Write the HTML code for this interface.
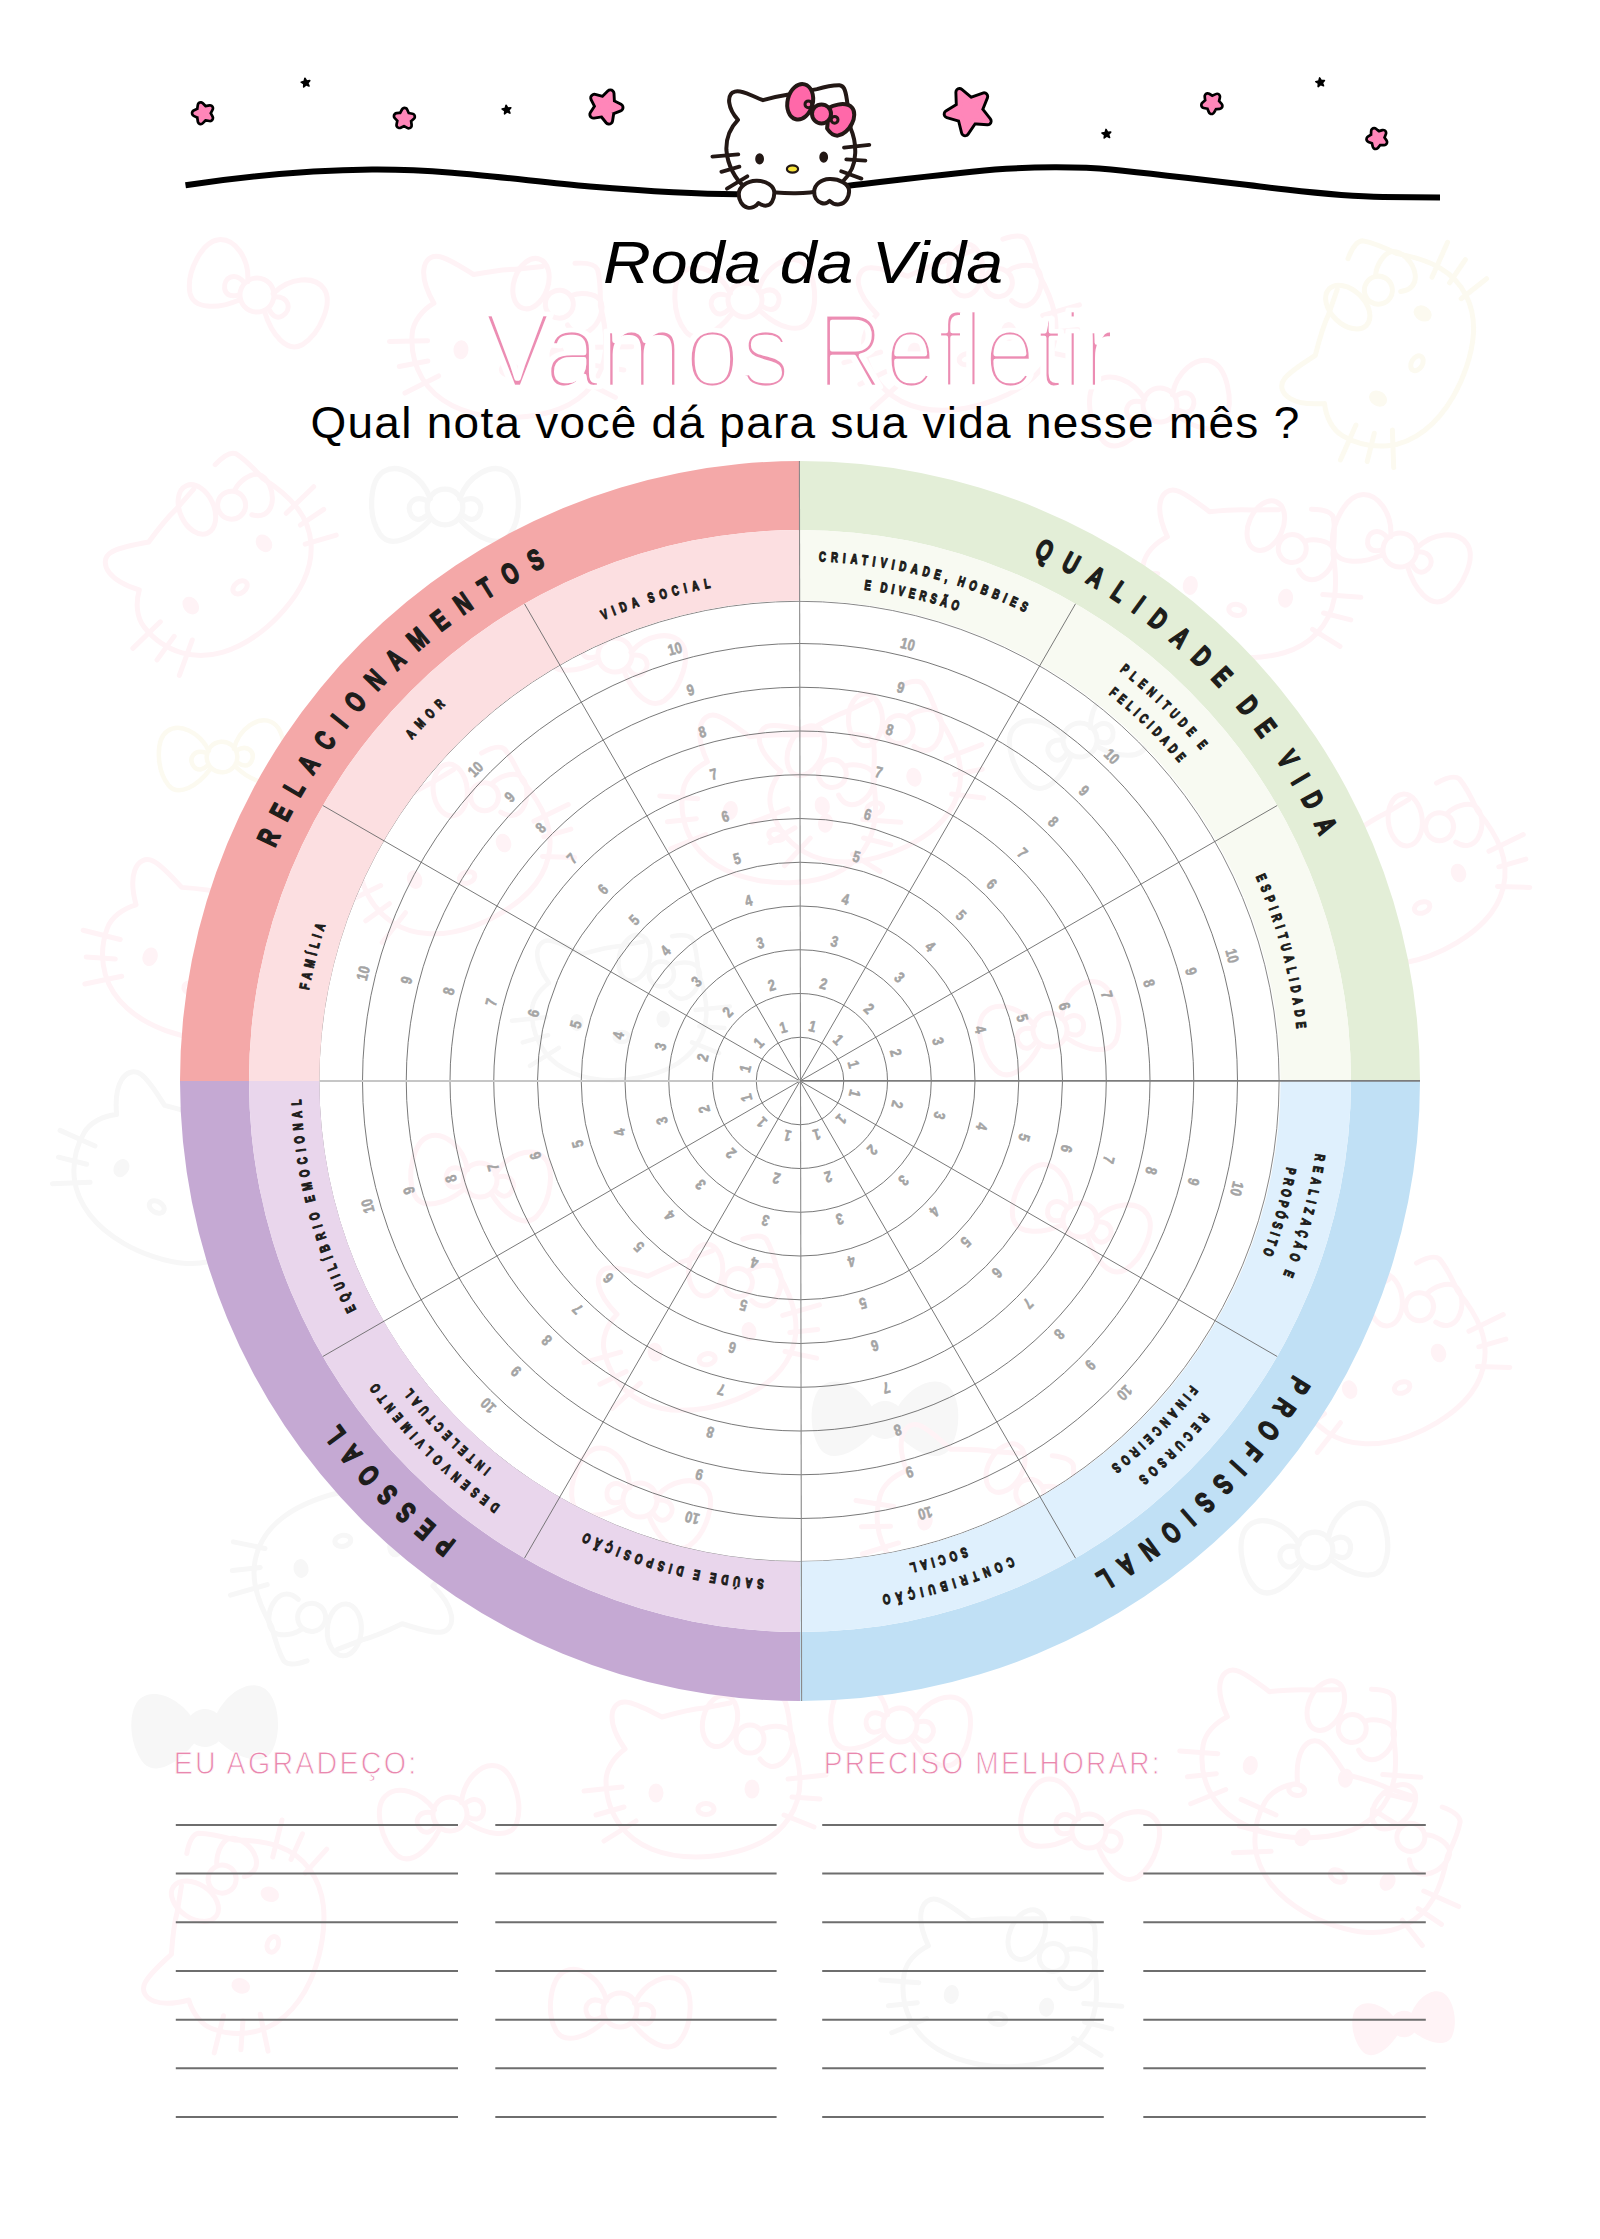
<!DOCTYPE html>
<html lang="pt-BR">
<head>
<meta charset="utf-8">
<title>Roda da Vida</title>
<style>
html,body{margin:0;padding:0;background:#fff}
body{width:1600px;height:2239px;overflow:hidden;font-family:"Liberation Sans",sans-serif}
svg{display:block}
</style>
</head>
<body>
<svg width="1600" height="2239" viewBox="0 0 1600 2239">
<rect width="1600" height="2239" fill="#fff"/>
<defs>
<g id="wb" fill="none" stroke-width="5" stroke-linecap="round" stroke-linejoin="round">
<path d="M-14 -8C-22 -30,-44 -42,-58 -34C-72 -26,-74 8,-62 26C-52 40,-30 30,-14 12"/>
<path d="M14 -8C22 -30,44 -42,58 -34C72 -26,74 8,62 26C52 40,30 30,14 12"/>
<circle cx="0" cy="0" r="17"/>
<path d="M-17 -6C-30 -12,-38 -2,-32 8C-28 14,-22 12,-17 8"/>
<path d="M17 -6C30 -12,38 -2,32 8C28 14,22 12,17 8"/>
</g>
<g id="wf" stroke="none">
<path d="M-10 -8C-22 -32,-46 -44,-60 -36C-76 -28,-78 10,-64 30C-52 44,-28 32,-10 12Z"/>
<path d="M10 -8C22 -32,46 -44,60 -36C76 -28,78 10,64 30C52 44,28 32,10 12Z"/>
<circle cx="0" cy="0" r="19"/>
</g>
<g id="wk" fill="none" stroke-width="5" stroke-linecap="round" stroke-linejoin="round">
<path d="M-79 -30C-86 -40,-92 -52,-92 -62C-92 -72,-86 -78,-78 -77C-68 -76,-54 -68,-42 -62C-28 -66,-12 -70,0 -71L26 -76M58 -82C70 -84,78 -83,81 -78C84 -70,86 -56,87 -42C92 -28,96 -12,96 2C96 30,80 52,56 64C36 74,10 78,-8 78C-40 78,-68 68,-84 46C-94 32,-98 16,-98 2C-98 -10,-90 -22,-79 -30"/>
<path d="M-120 12L-82 8M-108 36L-80 28M-100 62L-68 42M84 0L122 -4M88 18L116 20M80 36L110 48"/>
<ellipse cx="-48" cy="14" rx="5" ry="7" fill="currentColor"/>
<ellipse cx="48" cy="10" rx="5" ry="7" fill="currentColor"/>
<ellipse cx="2" cy="30" rx="8" ry="5.5"/>
<ellipse cx="16" cy="-58" rx="17" ry="26" transform="rotate(14 16 -58)"/>
<path d="M56 -20C62 -12,70 -10,78 -16C88 -24,92 -40,86 -48C80 -54,66 -54,58 -50"/>
<circle cx="46" cy="-40" r="14"/>
</g>
</defs>
<use href="#wb" transform="translate(257 295) rotate(25) scale(1.0)" stroke="#fff3f6" color="#fff3f6"/>
<use href="#wk" transform="translate(510 340) rotate(5) scale(1.0)" stroke="#fff3f6" color="#fff3f6"/>
<use href="#wb" transform="translate(745 300) rotate(-5) scale(1.0)" stroke="#fff3f6" color="#fff3f6"/>
<use href="#wk" transform="translate(960 330) rotate(-10) scale(1.0)" stroke="#fff3f6" color="#fff3f6"/>
<use href="#wb" transform="translate(1160 405) rotate(-10) scale(1.0)" stroke="#fff3f6" color="#fff3f6"/>
<use href="#wk" transform="translate(1390 350) rotate(-60) scale(1.0)" stroke="#fcfaf0" color="#fcfaf0"/>
<use href="#wk" transform="translate(220 565) rotate(-38) scale(1.0)" stroke="#fff3f6" color="#fff3f6"/>
<use href="#wb" transform="translate(445 507) rotate(0) scale(1.05)" stroke="#f7f7f7" color="#f7f7f7"/>
<use href="#wb" transform="translate(222 757) rotate(-5) scale(0.9)" stroke="#fcfaf0" color="#fcfaf0"/>
<use href="#wk" transform="translate(455 850) rotate(-20) scale(1.0)" stroke="#fff3f6" color="#fff3f6"/>
<use href="#wk" transform="translate(200 960) rotate(20) scale(1.0)" stroke="#fff3f6" color="#fff3f6"/>
<use href="#wb" transform="translate(615 655) rotate(20) scale(1.0)" stroke="#fff3f6" color="#fff3f6"/>
<use href="#wk" transform="translate(780 805) rotate(10) scale(1.0)" stroke="#fff3f6" color="#fff3f6"/>
<use href="#wb" transform="translate(1400 550) rotate(25) scale(1.0)" stroke="#fff3f6" color="#fff3f6"/>
<use href="#wk" transform="translate(1240 580) rotate(10) scale(1.0)" stroke="#fff3f6" color="#fff3f6"/>
<use href="#wk" transform="translate(1410 880) rotate(-20) scale(1.0)" stroke="#fff3f6" color="#fff3f6"/>
<use href="#wb" transform="translate(1080 740) rotate(-20) scale(1.0)" stroke="#f7f7f7" color="#f7f7f7"/>
<use href="#wk" transform="translate(865 780) rotate(-15) scale(1.0)" stroke="#fff3f6" color="#fff3f6"/>
<use href="#wk" transform="translate(350 1570) rotate(170) scale(1.0)" stroke="#f7f7f7" color="#f7f7f7"/>
<use href="#wf" transform="translate(205 1728) rotate(-5) scale(1.0)" fill="#f7f7f7"/>
<use href="#wk" transform="translate(170 1180) rotate(30) scale(1.0)" stroke="#f7f7f7" color="#f7f7f7"/>
<use href="#wk" transform="translate(1390 1360) rotate(-20) scale(1.0)" stroke="#fff3f6" color="#fff3f6"/>
<use href="#wb" transform="translate(1315 1550) rotate(-10) scale(1.05)" stroke="#f7f7f7" color="#f7f7f7"/>
<use href="#wb" transform="translate(900 1725) rotate(10) scale(1.0)" stroke="#fff3f6" color="#fff3f6"/>
<use href="#wk" transform="translate(1300 1760) rotate(10) scale(1.0)" stroke="#fff3f6" color="#fff3f6"/>
<use href="#wf" transform="translate(885 1420) rotate(0) scale(1.0)" fill="#f7f7f7"/>
<use href="#wb" transform="translate(1080 1220) rotate(25) scale(1.0)" stroke="#fff3f6" color="#fff3f6"/>
<use href="#wb" transform="translate(1050 1030) rotate(-15) scale(1.0)" stroke="#fff3f6" color="#fff3f6"/>
<use href="#wk" transform="translate(975 1520) rotate(15) scale(1.0)" stroke="#fff3f6" color="#fff3f6"/>
<use href="#wk" transform="translate(704 1779) rotate(0) scale(1.0)" stroke="#fff3f6" color="#fff3f6"/>
<use href="#wb" transform="translate(450 1814) rotate(-15) scale(1.0)" stroke="#fff3f6" color="#fff3f6"/>
<use href="#wk" transform="translate(244 1936) rotate(-70) scale(1.0)" stroke="#fff3f6" color="#fff3f6"/>
<use href="#wb" transform="translate(620 2010) rotate(5) scale(1.0)" stroke="#fff3f6" color="#fff3f6"/>
<use href="#wk" transform="translate(1001 1989) rotate(10) scale(1.0)" stroke="#f7f7f7" color="#f7f7f7"/>
<use href="#wb" transform="translate(1089 1831) rotate(20) scale(1.0)" stroke="#fff3f6" color="#fff3f6"/>
<use href="#wk" transform="translate(1351 1849) rotate(30) scale(1.0)" stroke="#fff3f6" color="#fff3f6"/>
<use href="#wf" transform="translate(1404 2024) rotate(-10) scale(0.7)" fill="#fff3f6"/>
<use href="#wb" transform="translate(480 1180) rotate(10) scale(1.0)" stroke="#fff3f6" color="#fff3f6"/>
<use href="#wk" transform="translate(700 1330) rotate(-10) scale(1.0)" stroke="#fff3f6" color="#fff3f6"/>
<use href="#wb" transform="translate(640 1500) rotate(20) scale(1.0)" stroke="#fff3f6" color="#fff3f6"/>
<use href="#wk" transform="translate(620 1010) rotate(0) scale(0.9)" stroke="#f7f7f7" color="#f7f7f7"/>
<g>
<polygon points="200.74,105.31 204.58,109.25 210.01,108.32 207.45,113.2 210.01,118.08 204.58,117.15 200.74,121.09 199.94,115.64 195,113.2 199.94,110.76" fill="#000" stroke="#000" stroke-width="8.6" stroke-linejoin="round"/><polygon points="200.74,105.31 204.58,109.25 210.01,108.32 207.45,113.2 210.01,118.08 204.58,117.15 200.74,121.09 199.94,115.64 195,113.2 199.94,110.76" fill="#ff86b9" stroke="#ff86b9" stroke-width="3.2" stroke-linejoin="round"/>
<polygon points="404.58,110.9 406.73,115.69 411.89,116.62 408.01,120.15 408.72,125.35 404.16,122.75 399.44,125.03 400.5,119.89 396.88,116.1 402.09,115.53" fill="#000" stroke="#000" stroke-width="8.6" stroke-linejoin="round"/><polygon points="404.58,110.9 406.73,115.69 411.89,116.62 408.01,120.15 408.72,125.35 404.16,122.75 399.44,125.03 400.5,119.89 396.88,116.1 402.09,115.53" fill="#ff86b9" stroke="#ff86b9" stroke-width="3.2" stroke-linejoin="round"/>
<polygon points="610.35,93.64 610.86,103.19 619.38,107.54 610.45,110.97 608.95,120.42 602.93,112.99 593.47,114.48 598.68,106.45 594.34,97.93 603.58,100.4" fill="#000" stroke="#000" stroke-width="10.2" stroke-linejoin="round"/><polygon points="610.35,93.64 610.86,103.19 619.38,107.54 610.45,110.97 608.95,120.42 602.93,112.99 593.47,114.48 598.68,106.45 594.34,97.93 603.58,100.4" fill="#ff86b9" stroke="#ff86b9" stroke-width="4.4" stroke-linejoin="round"/>
<polygon points="959.51,92.15 970.53,101.39 984.05,96.47 978.67,109.81 987.52,121.15 973.17,120.16 965.12,132.08 961.63,118.12 947.81,114.15 960,106.52" fill="#000" stroke="#000" stroke-width="10.2" stroke-linejoin="round"/><polygon points="959.51,92.15 970.53,101.39 984.05,96.47 978.67,109.81 987.52,121.15 973.17,120.16 965.12,132.08 961.63,118.12 947.81,114.15 960,106.52" fill="#ff86b9" stroke="#ff86b9" stroke-width="4.4" stroke-linejoin="round"/>
<polygon points="1207.64,96.29 1212.21,99.01 1217.03,96.78 1215.86,101.96 1219.47,105.87 1214.18,106.35 1211.58,110.99 1209.48,106.11 1204.27,105.07 1208.27,101.57" fill="#000" stroke="#000" stroke-width="8.6" stroke-linejoin="round"/><polygon points="1207.64,96.29 1212.21,99.01 1217.03,96.78 1215.86,101.96 1219.47,105.87 1214.18,106.35 1211.58,110.99 1209.48,106.11 1204.27,105.07 1208.27,101.57" fill="#ff86b9" stroke="#ff86b9" stroke-width="3.2" stroke-linejoin="round"/>
<polygon points="1374.09,131.08 1378.12,134.44 1383.17,133.01 1381.23,137.89 1384.14,142.25 1378.91,141.91 1375.66,146.03 1374.36,140.94 1369.44,139.13 1373.88,136.33" fill="#000" stroke="#000" stroke-width="8.6" stroke-linejoin="round"/><polygon points="1374.09,131.08 1378.12,134.44 1383.17,133.01 1381.23,137.89 1384.14,142.25 1378.91,141.91 1375.66,146.03 1374.36,140.94 1369.44,139.13 1373.88,136.33" fill="#ff86b9" stroke="#ff86b9" stroke-width="3.2" stroke-linejoin="round"/>
<polygon points="304.9,78.27 306.61,80.94 309.76,80.64 307.75,83.09 309.01,86 306.06,84.84 303.68,86.93 303.87,83.77 301.14,82.16 304.21,81.36" fill="#000" stroke="#000" stroke-width="1.6" stroke-linejoin="round"/>
<polygon points="506.06,105.24 507.67,107.97 510.83,107.78 508.74,110.16 509.9,113.11 506.99,111.85 504.54,113.86 504.84,110.71 502.17,109 505.26,108.31" fill="#000" stroke="#000" stroke-width="1.6" stroke-linejoin="round"/>
<polygon points="1106.02,129.43 1107.54,132.21 1110.7,132.13 1108.52,134.43 1109.58,137.42 1106.72,136.06 1104.2,137.98 1104.61,134.84 1102,133.04 1105.11,132.46" fill="#000" stroke="#000" stroke-width="1.6" stroke-linejoin="round"/>
<polygon points="1319.66,77.94 1321.27,80.67 1324.43,80.48 1322.34,82.86 1323.5,85.81 1320.59,84.55 1318.14,86.56 1318.44,83.41 1315.77,81.7 1318.86,81.01" fill="#000" stroke="#000" stroke-width="1.6" stroke-linejoin="round"/>
</g>
<path d="M185.5 185.3C240 177,300 170.5,372 169.6C450 169,520 180.5,590 186.6C650 191.5,700 194.5,742 194.2" fill="none" stroke="#000" stroke-width="6"/>
<path d="M846 186C880 182,950 173.5,995 169.5C1030 166.8,1080 166.5,1111 169.5C1170 175.5,1230 183,1286 189.6C1320 193.5,1360 196.8,1383 197L1440 197.4" fill="none" stroke="#000" stroke-width="6"/>
<g stroke="#231815" stroke-width="4" stroke-linecap="round" stroke-linejoin="round" fill="#fff">
<path d="M738 119.8C733.5 115,730 108.5,729.2 102.6C728.6 96.5,731 92.6,734.9 91.6C739 90.6,745 92.5,750.6 95C755 97,759 98.6,763 100.2C772 97.6,782 95.4,790 94.2L817 89.1C825 86.6,833 85.1,839.5 85.2C843.5 85.5,845.3 89,846.8 99.2C848 108,850 120,850.7 128.5C853.5 135,855.5 145,855.2 153.2C855 165,849.5 175,842.9 181.4C835 189,815 193.5,793.4 193.2C770 193,752 190.5,745 187C735.5 180,727.5 165,726.4 150C726 139,730 128,738 119.8Z"/>
<path d="M712.4 156.6L738.3 154.4M721.4 171.8L739.4 166.7M727 188.7L747.3 176.3M844 147.6L869.3 144.8M846.3 159.4L865.4 160.6M841.2 171.3L861.4 178.6" fill="none" stroke-width="3.8"/>
<ellipse cx="759.6" cy="158.9" rx="3.6" ry="4.8" fill="#231815" stroke-width="1.6"/>
<ellipse cx="823.7" cy="157.2" rx="3.6" ry="4.8" fill="#231815" stroke-width="1.6"/>
<ellipse cx="792.5" cy="169" rx="5.6" ry="3.6" fill="#f8e53c" stroke-width="2.2"/>
<path d="M756.2 180.8C766 180.5,774.5 186,774.3 193C774.2 200,771 205.2,766.5 205.6C763 205.9,760.5 204.5,758.5 203C756 206.5,751.5 208.6,747.5 207.6C742 206.2,738.6 200,738.8 193.8C739 186.5,747 181,756.2 180.8Z"/>
<path d="M829.4 179.1C839.5 178.8,849 184,849.1 190.9C849.2 197.5,845 203.6,839.5 204.3C835.5 204.8,832 203.2,829.6 200.8C827.5 203.2,824.5 204,821.5 203C816.5 201.3,814 196.5,814.2 191.5C814.5 184.5,821 179.4,829.4 179.1Z"/>
<ellipse cx="800.2" cy="101.8" rx="12.6" ry="18" transform="rotate(14 800.2 101.8)" fill="#ff68a9"/>
<path d="M827.1 128.5C830 133,833.5 136,838 135.6C843.5 135,849 129.5,852 123.5C854.8 118,855.2 111,852 107.6C849 104.5,843 103.6,838 104.6C834 105.4,831 106.5,829 108Z" fill="#ff68a9"/>
<circle cx="808.4" cy="104.3" r="3.4" fill="none" stroke-width="3"/>
<circle cx="834.6" cy="119.8" r="3.4" fill="none" stroke-width="3"/>
<circle cx="821.5" cy="113.9" r="9.5" fill="#ff68a9"/>
</g>

<g font-family="'Liberation Sans',sans-serif">
<filter id="er" x="-5%" y="-30%" width="110%" height="160%"><feMorphology operator="dilate" radius="1 0"/></filter>
<g filter="url(#er)" font-size="106.5" fill="#ec8db3" stroke="#fff" stroke-width="4.6" stroke-linejoin="round" paint-order="fill stroke"><text x="483.8" y="387" textLength="307.4" lengthAdjust="spacingAndGlyphs">Vamos</text><text x="816.5" y="387" textLength="298" lengthAdjust="spacingAndGlyphs">Refletir</text></g>
<text x="603" y="283" font-size="60" font-style="italic" textLength="400" lengthAdjust="spacingAndGlyphs" fill="#000">Roda da Vida</text>
<text x="310.5" y="437.5" font-size="43.5" textLength="990" lengthAdjust="spacingAndGlyphs" letter-spacing="1.2" fill="#000">Qual nota você dá para sua vida nesse mês ?</text>
</g>
<circle cx="799" cy="1081.4" r="480.1" fill="none" stroke="#7a7a7a" stroke-width="0.9"/>
<path d="M180 1081A620 620 0 0 1 800 461L800 530A551 551 0 0 0 249 1081Z" fill="#f4a8a8"/>
<path d="M249 1081A551 551 0 0 1 800 530L800 600.4A480.6 480.6 0 0 0 319.4 1081Z" fill="#fcdfe1"/>
<path d="M800 461A620 620 0 0 1 1420 1081L1351 1081A551 551 0 0 0 800 530Z" fill="#e3eed7"/>
<path d="M800 530A551 551 0 0 1 1351 1081L1280.6 1081A480.6 480.6 0 0 0 800 600.4Z" fill="#f8faf2"/>
<path d="M1420 1081A620 620 0 0 1 800 1701L800 1632A551 551 0 0 0 1351 1081Z" fill="#c0e0f5"/>
<path d="M1351 1081A551 551 0 0 1 800 1632L800 1561.6A480.6 480.6 0 0 0 1280.6 1081Z" fill="#dff0fd"/>
<path d="M800 1701A620 620 0 0 1 180 1081L249 1081A551 551 0 0 0 800 1632Z" fill="#c5a9d3"/>
<path d="M800 1632A551 551 0 0 1 249 1081L319.4 1081A480.6 480.6 0 0 0 800 1561.6Z" fill="#e9d6ec"/>
<g fill="none" stroke="#6a6a6a" stroke-width="0.9">
<circle cx="800.0" cy="1081.0" r="43.75"/>
<circle cx="800.0" cy="1081.0" r="87.5"/>
<circle cx="800.0" cy="1081.0" r="131.25"/>
<circle cx="800.0" cy="1081.0" r="175.0"/>
<circle cx="800.0" cy="1081.0" r="218.75"/>
<circle cx="800.0" cy="1081.0" r="262.5"/>
<circle cx="800.0" cy="1081.0" r="306.25"/>
<circle cx="800.0" cy="1081.0" r="350.0"/>
<circle cx="800.0" cy="1081.0" r="393.75"/>
<circle cx="800.0" cy="1081.0" r="437.5"/>
<path d="M800.0 1081.0L1075.5 603.82"/>
<path d="M800.0 1081.0L1277.18 805.5"/>
<path d="M800.0 1081.0L1277.18 1356.5"/>
<path d="M800.0 1081.0L1075.5 1558.18"/>
<path d="M800.0 1081.0L524.5 1558.18"/>
<path d="M800.0 1081.0L322.82 1356.5"/>
<path d="M800.0 1081.0L322.82 805.5"/>
<path d="M800.0 1081.0L524.5 603.82"/>
</g>
<path d="M799.4 461L801.6 1701" stroke="#8a8a8a" stroke-width="1.1"/>
<path d="M800.0 1080.9H1420" stroke="#7c7c7c" stroke-width="1.9"/>
<path d="M800.0 1081H319.6" stroke="#c6c6c6" stroke-width="2"/>
<g font-family="'Liberation Sans',sans-serif" font-weight="bold" font-size="15.5" fill="#a4a4a4" stroke="#a4a4a4" stroke-width="0.55" text-anchor="middle">
<text transform="translate(800.0 1081.0) rotate(14.63) translate(-1.85 -50.85)" textLength="7.07" lengthAdjust="spacingAndGlyphs">1</text>
<text transform="translate(800.0 1081.0) rotate(14.63) translate(-1.85 -94.6)" textLength="7.07" lengthAdjust="spacingAndGlyphs">2</text>
<text transform="translate(800.0 1081.0) rotate(14.63) translate(-1.85 -138.35)" textLength="7.07" lengthAdjust="spacingAndGlyphs">3</text>
<text transform="translate(800.0 1081.0) rotate(14.63) translate(-1.85 -182.1)" textLength="7.07" lengthAdjust="spacingAndGlyphs">4</text>
<text transform="translate(800.0 1081.0) rotate(14.63) translate(-1.85 -225.85)" textLength="7.07" lengthAdjust="spacingAndGlyphs">5</text>
<text transform="translate(800.0 1081.0) rotate(14.63) translate(-1.85 -269.6)" textLength="7.07" lengthAdjust="spacingAndGlyphs">6</text>
<text transform="translate(800.0 1081.0) rotate(14.63) translate(-1.85 -313.35)" textLength="7.07" lengthAdjust="spacingAndGlyphs">7</text>
<text transform="translate(800.0 1081.0) rotate(14.63) translate(-1.85 -357.1)" textLength="7.07" lengthAdjust="spacingAndGlyphs">8</text>
<text transform="translate(800.0 1081.0) rotate(14.63) translate(-1.85 -400.85)" textLength="7.07" lengthAdjust="spacingAndGlyphs">9</text>
<text transform="translate(800.0 1081.0) rotate(14.63) translate(-6.1 -444.6)" textLength="14.14" lengthAdjust="spacingAndGlyphs">10</text>
<text transform="translate(800.0 1081.0) rotate(44.63) translate(-1.85 -50.85)" textLength="7.07" lengthAdjust="spacingAndGlyphs">1</text>
<text transform="translate(800.0 1081.0) rotate(44.63) translate(-1.85 -94.6)" textLength="7.07" lengthAdjust="spacingAndGlyphs">2</text>
<text transform="translate(800.0 1081.0) rotate(44.63) translate(-1.85 -138.35)" textLength="7.07" lengthAdjust="spacingAndGlyphs">3</text>
<text transform="translate(800.0 1081.0) rotate(44.63) translate(-1.85 -182.1)" textLength="7.07" lengthAdjust="spacingAndGlyphs">4</text>
<text transform="translate(800.0 1081.0) rotate(44.63) translate(-1.85 -225.85)" textLength="7.07" lengthAdjust="spacingAndGlyphs">5</text>
<text transform="translate(800.0 1081.0) rotate(44.63) translate(-1.85 -269.6)" textLength="7.07" lengthAdjust="spacingAndGlyphs">6</text>
<text transform="translate(800.0 1081.0) rotate(44.63) translate(-1.85 -313.35)" textLength="7.07" lengthAdjust="spacingAndGlyphs">7</text>
<text transform="translate(800.0 1081.0) rotate(44.63) translate(-1.85 -357.1)" textLength="7.07" lengthAdjust="spacingAndGlyphs">8</text>
<text transform="translate(800.0 1081.0) rotate(44.63) translate(-1.85 -400.85)" textLength="7.07" lengthAdjust="spacingAndGlyphs">9</text>
<text transform="translate(800.0 1081.0) rotate(44.63) translate(-6.1 -444.6)" textLength="14.14" lengthAdjust="spacingAndGlyphs">10</text>
<text transform="translate(800.0 1081.0) rotate(74.63) translate(-1.85 -50.85)" textLength="7.07" lengthAdjust="spacingAndGlyphs">1</text>
<text transform="translate(800.0 1081.0) rotate(74.63) translate(-1.85 -94.6)" textLength="7.07" lengthAdjust="spacingAndGlyphs">2</text>
<text transform="translate(800.0 1081.0) rotate(74.63) translate(-1.85 -138.35)" textLength="7.07" lengthAdjust="spacingAndGlyphs">3</text>
<text transform="translate(800.0 1081.0) rotate(74.63) translate(-1.85 -182.1)" textLength="7.07" lengthAdjust="spacingAndGlyphs">4</text>
<text transform="translate(800.0 1081.0) rotate(74.63) translate(-1.85 -225.85)" textLength="7.07" lengthAdjust="spacingAndGlyphs">5</text>
<text transform="translate(800.0 1081.0) rotate(74.63) translate(-1.85 -269.6)" textLength="7.07" lengthAdjust="spacingAndGlyphs">6</text>
<text transform="translate(800.0 1081.0) rotate(74.63) translate(-1.85 -313.35)" textLength="7.07" lengthAdjust="spacingAndGlyphs">7</text>
<text transform="translate(800.0 1081.0) rotate(74.63) translate(-1.85 -357.1)" textLength="7.07" lengthAdjust="spacingAndGlyphs">8</text>
<text transform="translate(800.0 1081.0) rotate(74.63) translate(-1.85 -400.85)" textLength="7.07" lengthAdjust="spacingAndGlyphs">9</text>
<text transform="translate(800.0 1081.0) rotate(74.63) translate(-6.1 -444.6)" textLength="14.14" lengthAdjust="spacingAndGlyphs">10</text>
<text transform="translate(800.0 1081.0) rotate(104.63) translate(-1.85 -50.85)" textLength="7.07" lengthAdjust="spacingAndGlyphs">1</text>
<text transform="translate(800.0 1081.0) rotate(104.63) translate(-1.85 -94.6)" textLength="7.07" lengthAdjust="spacingAndGlyphs">2</text>
<text transform="translate(800.0 1081.0) rotate(104.63) translate(-1.85 -138.35)" textLength="7.07" lengthAdjust="spacingAndGlyphs">3</text>
<text transform="translate(800.0 1081.0) rotate(104.63) translate(-1.85 -182.1)" textLength="7.07" lengthAdjust="spacingAndGlyphs">4</text>
<text transform="translate(800.0 1081.0) rotate(104.63) translate(-1.85 -225.85)" textLength="7.07" lengthAdjust="spacingAndGlyphs">5</text>
<text transform="translate(800.0 1081.0) rotate(104.63) translate(-1.85 -269.6)" textLength="7.07" lengthAdjust="spacingAndGlyphs">6</text>
<text transform="translate(800.0 1081.0) rotate(104.63) translate(-1.85 -313.35)" textLength="7.07" lengthAdjust="spacingAndGlyphs">7</text>
<text transform="translate(800.0 1081.0) rotate(104.63) translate(-1.85 -357.1)" textLength="7.07" lengthAdjust="spacingAndGlyphs">8</text>
<text transform="translate(800.0 1081.0) rotate(104.63) translate(-1.85 -400.85)" textLength="7.07" lengthAdjust="spacingAndGlyphs">9</text>
<text transform="translate(800.0 1081.0) rotate(104.63) translate(-6.1 -444.6)" textLength="14.14" lengthAdjust="spacingAndGlyphs">10</text>
<text transform="translate(800.0 1081.0) rotate(134.63) translate(-1.85 -50.85)" textLength="7.07" lengthAdjust="spacingAndGlyphs">1</text>
<text transform="translate(800.0 1081.0) rotate(134.63) translate(-1.85 -94.6)" textLength="7.07" lengthAdjust="spacingAndGlyphs">2</text>
<text transform="translate(800.0 1081.0) rotate(134.63) translate(-1.85 -138.35)" textLength="7.07" lengthAdjust="spacingAndGlyphs">3</text>
<text transform="translate(800.0 1081.0) rotate(134.63) translate(-1.85 -182.1)" textLength="7.07" lengthAdjust="spacingAndGlyphs">4</text>
<text transform="translate(800.0 1081.0) rotate(134.63) translate(-1.85 -225.85)" textLength="7.07" lengthAdjust="spacingAndGlyphs">5</text>
<text transform="translate(800.0 1081.0) rotate(134.63) translate(-1.85 -269.6)" textLength="7.07" lengthAdjust="spacingAndGlyphs">6</text>
<text transform="translate(800.0 1081.0) rotate(134.63) translate(-1.85 -313.35)" textLength="7.07" lengthAdjust="spacingAndGlyphs">7</text>
<text transform="translate(800.0 1081.0) rotate(134.63) translate(-1.85 -357.1)" textLength="7.07" lengthAdjust="spacingAndGlyphs">8</text>
<text transform="translate(800.0 1081.0) rotate(134.63) translate(-1.85 -400.85)" textLength="7.07" lengthAdjust="spacingAndGlyphs">9</text>
<text transform="translate(800.0 1081.0) rotate(134.63) translate(-6.1 -444.6)" textLength="14.14" lengthAdjust="spacingAndGlyphs">10</text>
<text transform="translate(800.0 1081.0) rotate(164.63) translate(-1.85 -50.85)" textLength="7.07" lengthAdjust="spacingAndGlyphs">1</text>
<text transform="translate(800.0 1081.0) rotate(164.63) translate(-1.85 -94.6)" textLength="7.07" lengthAdjust="spacingAndGlyphs">2</text>
<text transform="translate(800.0 1081.0) rotate(164.63) translate(-1.85 -138.35)" textLength="7.07" lengthAdjust="spacingAndGlyphs">3</text>
<text transform="translate(800.0 1081.0) rotate(164.63) translate(-1.85 -182.1)" textLength="7.07" lengthAdjust="spacingAndGlyphs">4</text>
<text transform="translate(800.0 1081.0) rotate(164.63) translate(-1.85 -225.85)" textLength="7.07" lengthAdjust="spacingAndGlyphs">5</text>
<text transform="translate(800.0 1081.0) rotate(164.63) translate(-1.85 -269.6)" textLength="7.07" lengthAdjust="spacingAndGlyphs">6</text>
<text transform="translate(800.0 1081.0) rotate(164.63) translate(-1.85 -313.35)" textLength="7.07" lengthAdjust="spacingAndGlyphs">7</text>
<text transform="translate(800.0 1081.0) rotate(164.63) translate(-1.85 -357.1)" textLength="7.07" lengthAdjust="spacingAndGlyphs">8</text>
<text transform="translate(800.0 1081.0) rotate(164.63) translate(-1.85 -400.85)" textLength="7.07" lengthAdjust="spacingAndGlyphs">9</text>
<text transform="translate(800.0 1081.0) rotate(164.63) translate(-6.1 -444.6)" textLength="14.14" lengthAdjust="spacingAndGlyphs">10</text>
<text transform="translate(800.0 1081.0) rotate(194.63) translate(-1.85 -50.85)" textLength="7.07" lengthAdjust="spacingAndGlyphs">1</text>
<text transform="translate(800.0 1081.0) rotate(194.63) translate(-1.85 -94.6)" textLength="7.07" lengthAdjust="spacingAndGlyphs">2</text>
<text transform="translate(800.0 1081.0) rotate(194.63) translate(-1.85 -138.35)" textLength="7.07" lengthAdjust="spacingAndGlyphs">3</text>
<text transform="translate(800.0 1081.0) rotate(194.63) translate(-1.85 -182.1)" textLength="7.07" lengthAdjust="spacingAndGlyphs">4</text>
<text transform="translate(800.0 1081.0) rotate(194.63) translate(-1.85 -225.85)" textLength="7.07" lengthAdjust="spacingAndGlyphs">5</text>
<text transform="translate(800.0 1081.0) rotate(194.63) translate(-1.85 -269.6)" textLength="7.07" lengthAdjust="spacingAndGlyphs">6</text>
<text transform="translate(800.0 1081.0) rotate(194.63) translate(-1.85 -313.35)" textLength="7.07" lengthAdjust="spacingAndGlyphs">7</text>
<text transform="translate(800.0 1081.0) rotate(194.63) translate(-1.85 -357.1)" textLength="7.07" lengthAdjust="spacingAndGlyphs">8</text>
<text transform="translate(800.0 1081.0) rotate(194.63) translate(-1.85 -400.85)" textLength="7.07" lengthAdjust="spacingAndGlyphs">9</text>
<text transform="translate(800.0 1081.0) rotate(194.63) translate(-6.1 -444.6)" textLength="14.14" lengthAdjust="spacingAndGlyphs">10</text>
<text transform="translate(800.0 1081.0) rotate(224.63) translate(-1.85 -50.85)" textLength="7.07" lengthAdjust="spacingAndGlyphs">1</text>
<text transform="translate(800.0 1081.0) rotate(224.63) translate(-1.85 -94.6)" textLength="7.07" lengthAdjust="spacingAndGlyphs">2</text>
<text transform="translate(800.0 1081.0) rotate(224.63) translate(-1.85 -138.35)" textLength="7.07" lengthAdjust="spacingAndGlyphs">3</text>
<text transform="translate(800.0 1081.0) rotate(224.63) translate(-1.85 -182.1)" textLength="7.07" lengthAdjust="spacingAndGlyphs">4</text>
<text transform="translate(800.0 1081.0) rotate(224.63) translate(-1.85 -225.85)" textLength="7.07" lengthAdjust="spacingAndGlyphs">5</text>
<text transform="translate(800.0 1081.0) rotate(224.63) translate(-1.85 -269.6)" textLength="7.07" lengthAdjust="spacingAndGlyphs">6</text>
<text transform="translate(800.0 1081.0) rotate(224.63) translate(-1.85 -313.35)" textLength="7.07" lengthAdjust="spacingAndGlyphs">7</text>
<text transform="translate(800.0 1081.0) rotate(224.63) translate(-1.85 -357.1)" textLength="7.07" lengthAdjust="spacingAndGlyphs">8</text>
<text transform="translate(800.0 1081.0) rotate(224.63) translate(-1.85 -400.85)" textLength="7.07" lengthAdjust="spacingAndGlyphs">9</text>
<text transform="translate(800.0 1081.0) rotate(224.63) translate(-6.1 -444.6)" textLength="14.14" lengthAdjust="spacingAndGlyphs">10</text>
<text transform="translate(800.0 1081.0) rotate(254.63) translate(-1.85 -50.85)" textLength="7.07" lengthAdjust="spacingAndGlyphs">1</text>
<text transform="translate(800.0 1081.0) rotate(254.63) translate(-1.85 -94.6)" textLength="7.07" lengthAdjust="spacingAndGlyphs">2</text>
<text transform="translate(800.0 1081.0) rotate(254.63) translate(-1.85 -138.35)" textLength="7.07" lengthAdjust="spacingAndGlyphs">3</text>
<text transform="translate(800.0 1081.0) rotate(254.63) translate(-1.85 -182.1)" textLength="7.07" lengthAdjust="spacingAndGlyphs">4</text>
<text transform="translate(800.0 1081.0) rotate(254.63) translate(-1.85 -225.85)" textLength="7.07" lengthAdjust="spacingAndGlyphs">5</text>
<text transform="translate(800.0 1081.0) rotate(254.63) translate(-1.85 -269.6)" textLength="7.07" lengthAdjust="spacingAndGlyphs">6</text>
<text transform="translate(800.0 1081.0) rotate(254.63) translate(-1.85 -313.35)" textLength="7.07" lengthAdjust="spacingAndGlyphs">7</text>
<text transform="translate(800.0 1081.0) rotate(254.63) translate(-1.85 -357.1)" textLength="7.07" lengthAdjust="spacingAndGlyphs">8</text>
<text transform="translate(800.0 1081.0) rotate(254.63) translate(-1.85 -400.85)" textLength="7.07" lengthAdjust="spacingAndGlyphs">9</text>
<text transform="translate(800.0 1081.0) rotate(254.63) translate(-6.1 -444.6)" textLength="14.14" lengthAdjust="spacingAndGlyphs">10</text>
<text transform="translate(800.0 1081.0) rotate(284.63) translate(-1.85 -50.85)" textLength="7.07" lengthAdjust="spacingAndGlyphs">1</text>
<text transform="translate(800.0 1081.0) rotate(284.63) translate(-1.85 -94.6)" textLength="7.07" lengthAdjust="spacingAndGlyphs">2</text>
<text transform="translate(800.0 1081.0) rotate(284.63) translate(-1.85 -138.35)" textLength="7.07" lengthAdjust="spacingAndGlyphs">3</text>
<text transform="translate(800.0 1081.0) rotate(284.63) translate(-1.85 -182.1)" textLength="7.07" lengthAdjust="spacingAndGlyphs">4</text>
<text transform="translate(800.0 1081.0) rotate(284.63) translate(-1.85 -225.85)" textLength="7.07" lengthAdjust="spacingAndGlyphs">5</text>
<text transform="translate(800.0 1081.0) rotate(284.63) translate(-1.85 -269.6)" textLength="7.07" lengthAdjust="spacingAndGlyphs">6</text>
<text transform="translate(800.0 1081.0) rotate(284.63) translate(-1.85 -313.35)" textLength="7.07" lengthAdjust="spacingAndGlyphs">7</text>
<text transform="translate(800.0 1081.0) rotate(284.63) translate(-1.85 -357.1)" textLength="7.07" lengthAdjust="spacingAndGlyphs">8</text>
<text transform="translate(800.0 1081.0) rotate(284.63) translate(-1.85 -400.85)" textLength="7.07" lengthAdjust="spacingAndGlyphs">9</text>
<text transform="translate(800.0 1081.0) rotate(284.63) translate(-6.1 -444.6)" textLength="14.14" lengthAdjust="spacingAndGlyphs">10</text>
<text transform="translate(800.0 1081.0) rotate(314.63) translate(-1.85 -50.85)" textLength="7.07" lengthAdjust="spacingAndGlyphs">1</text>
<text transform="translate(800.0 1081.0) rotate(314.63) translate(-1.85 -94.6)" textLength="7.07" lengthAdjust="spacingAndGlyphs">2</text>
<text transform="translate(800.0 1081.0) rotate(314.63) translate(-1.85 -138.35)" textLength="7.07" lengthAdjust="spacingAndGlyphs">3</text>
<text transform="translate(800.0 1081.0) rotate(314.63) translate(-1.85 -182.1)" textLength="7.07" lengthAdjust="spacingAndGlyphs">4</text>
<text transform="translate(800.0 1081.0) rotate(314.63) translate(-1.85 -225.85)" textLength="7.07" lengthAdjust="spacingAndGlyphs">5</text>
<text transform="translate(800.0 1081.0) rotate(314.63) translate(-1.85 -269.6)" textLength="7.07" lengthAdjust="spacingAndGlyphs">6</text>
<text transform="translate(800.0 1081.0) rotate(314.63) translate(-1.85 -313.35)" textLength="7.07" lengthAdjust="spacingAndGlyphs">7</text>
<text transform="translate(800.0 1081.0) rotate(314.63) translate(-1.85 -357.1)" textLength="7.07" lengthAdjust="spacingAndGlyphs">8</text>
<text transform="translate(800.0 1081.0) rotate(314.63) translate(-1.85 -400.85)" textLength="7.07" lengthAdjust="spacingAndGlyphs">9</text>
<text transform="translate(800.0 1081.0) rotate(314.63) translate(-6.1 -444.6)" textLength="14.14" lengthAdjust="spacingAndGlyphs">10</text>
<text transform="translate(800.0 1081.0) rotate(344.63) translate(-1.85 -50.85)" textLength="7.07" lengthAdjust="spacingAndGlyphs">1</text>
<text transform="translate(800.0 1081.0) rotate(344.63) translate(-1.85 -94.6)" textLength="7.07" lengthAdjust="spacingAndGlyphs">2</text>
<text transform="translate(800.0 1081.0) rotate(344.63) translate(-1.85 -138.35)" textLength="7.07" lengthAdjust="spacingAndGlyphs">3</text>
<text transform="translate(800.0 1081.0) rotate(344.63) translate(-1.85 -182.1)" textLength="7.07" lengthAdjust="spacingAndGlyphs">4</text>
<text transform="translate(800.0 1081.0) rotate(344.63) translate(-1.85 -225.85)" textLength="7.07" lengthAdjust="spacingAndGlyphs">5</text>
<text transform="translate(800.0 1081.0) rotate(344.63) translate(-1.85 -269.6)" textLength="7.07" lengthAdjust="spacingAndGlyphs">6</text>
<text transform="translate(800.0 1081.0) rotate(344.63) translate(-1.85 -313.35)" textLength="7.07" lengthAdjust="spacingAndGlyphs">7</text>
<text transform="translate(800.0 1081.0) rotate(344.63) translate(-1.85 -357.1)" textLength="7.07" lengthAdjust="spacingAndGlyphs">8</text>
<text transform="translate(800.0 1081.0) rotate(344.63) translate(-1.85 -400.85)" textLength="7.07" lengthAdjust="spacingAndGlyphs">9</text>
<text transform="translate(800.0 1081.0) rotate(344.63) translate(-6.1 -444.6)" textLength="14.14" lengthAdjust="spacingAndGlyphs">10</text>
</g>
<g font-family="'Liberation Sans',sans-serif" font-weight="bold" fill="#1d1d1b" stroke="#1d1d1b" stroke-linejoin="round">
<path id="c1" d="M274.63 848.39A574.56 574.56 0 0 1 576.58 551.66" fill="none" stroke="none"/>
<text font-size="28.9" letter-spacing="19.69" stroke-width="1.7"><textPath href="#c1" textLength="413.51" lengthAdjust="spacingAndGlyphs">RELACIONAMENTOS</textPath></text>
<path id="c2" d="M1033.29 555.93A574.56 574.56 0 0 1 1333.41 867.49" fill="none" stroke="none"/>
<text font-size="28.9" letter-spacing="19.58" word-spacing="-12.43" stroke-width="1.7"><textPath href="#c2" textLength="423.47" lengthAdjust="spacingAndGlyphs">QUALIDADE DE VIDA</textPath></text>
<path id="c3" d="M1293.9 1374.57A574.56 574.56 0 0 1 1066.7 1589.91" fill="none" stroke="none"/>
<text font-size="28.9" letter-spacing="17.29" stroke-width="1.7"><textPath href="#c3" textLength="296.99" lengthAdjust="spacingAndGlyphs">PROFISSIONAL</textPath></text>
<path id="c4" d="M456.57 1541.62A574.56 574.56 0 0 1 320.81 1398.02" fill="none" stroke="none"/>
<text font-size="28.9" letter-spacing="16.71" stroke-width="1.7"><textPath href="#c4" textLength="178.55" lengthAdjust="spacingAndGlyphs">PESSOAL</textPath></text>
<path id="c5" d="M603.19 620A501.25 501.25 0 0 1 733.21 584.22" fill="none" stroke="none"/>
<text font-size="13.8" letter-spacing="7.57" word-spacing="-4" stroke-width="1.2"><textPath href="#c5" textLength="117.77" lengthAdjust="spacingAndGlyphs">VIDA SOCIAL</textPath></text>
<path id="c6" d="M411.71 739.72A516.95 516.95 0 0 1 463.49 688.57" fill="none" stroke="none"/>
<text font-size="13.8" letter-spacing="9.03" stroke-width="1.2"><textPath href="#c6" textLength="54.8" lengthAdjust="spacingAndGlyphs">AMOR</textPath></text>
<path id="c7" d="M308.75 990.29A499.55 499.55 0 0 1 332.82 904.09" fill="none" stroke="none"/>
<text font-size="13.8" letter-spacing="6.74" stroke-width="1.2"><textPath href="#c7" textLength="72.19" lengthAdjust="spacingAndGlyphs">FAMÍLIA</textPath></text>
<path id="c8" d="M818.75 561.29A520.05 520.05 0 0 1 1045.73 622.66" fill="none" stroke="none"/>
<text font-size="13.8" letter-spacing="7.03" word-spacing="-3.46" stroke-width="1.2"><textPath href="#c8" textLength="219.03" lengthAdjust="spacingAndGlyphs">CRIATIVIDADE, HOBBIES</textPath></text>
<path id="c9" d="M864.09 589.41A495.75 495.75 0 0 1 977.6 618.15" fill="none" stroke="none"/>
<text font-size="13.8" letter-spacing="6.03" word-spacing="-2.46" stroke-width="1.2"><textPath href="#c9" textLength="100.06" lengthAdjust="spacingAndGlyphs">E DIVERSÃO</textPath></text>
<path id="c10" d="M1119.44 670.88A519.85 519.85 0 0 1 1215.37 768.4" fill="none" stroke="none"/>
<text font-size="13.8" letter-spacing="7.53" word-spacing="-3.95" stroke-width="1.2"><textPath href="#c10" textLength="119.05" lengthAdjust="spacingAndGlyphs">PLENITUDE E</textPath></text>
<path id="c11" d="M1108.51 693.96A494.95 494.95 0 0 1 1192.65 779.66" fill="none" stroke="none"/>
<text font-size="13.8" letter-spacing="6.45" stroke-width="1.2"><textPath href="#c11" textLength="103.12" lengthAdjust="spacingAndGlyphs">FELICIDADE</textPath></text>
<path id="c12" d="M1255.67 876.5A499.45 499.45 0 0 1 1298.55 1050.93" fill="none" stroke="none"/>
<text font-size="13.8" letter-spacing="7.21" stroke-width="1.2"><textPath href="#c12" textLength="163.17" lengthAdjust="spacingAndGlyphs">ESPIRITUALIDADE</textPath></text>
<path id="c13" d="M1315.66 1153.62A520.75 520.75 0 0 1 1274.19 1296.24" fill="none" stroke="none"/>
<text font-size="13.8" letter-spacing="7.26" word-spacing="-3.69" stroke-width="1.2"><textPath href="#c13" textLength="130.86" lengthAdjust="spacingAndGlyphs">REALIZAÇÃO E</textPath></text>
<path id="c14" d="M1286.7 1167.05A494.25 494.25 0 0 1 1255.09 1273.81" fill="none" stroke="none"/>
<text font-size="13.8" letter-spacing="5.86" stroke-width="1.2"><textPath href="#c14" textLength="94.32" lengthAdjust="spacingAndGlyphs">PROPÓSITO</textPath></text>
<path id="c15" d="M1202.64 1412.52A521.55 521.55 0 0 1 1120.13 1492.75" fill="none" stroke="none"/>
<text font-size="13.8" letter-spacing="7.57" stroke-width="1.2"><textPath href="#c15" textLength="97.12" lengthAdjust="spacingAndGlyphs">RECURSOS</textPath></text>
<path id="c16" d="M1190.94 1384.88A495.15 495.15 0 0 1 1093.67 1479.67" fill="none" stroke="none"/>
<text font-size="13.8" letter-spacing="6.81" stroke-width="1.2"><textPath href="#c16" textLength="118.96" lengthAdjust="spacingAndGlyphs">FINANCEIROS</textPath></text>
<path id="c17" d="M1011.67 1556.79A520.75 520.75 0 0 1 858.8 1598.42" fill="none" stroke="none"/>
<text font-size="13.8" letter-spacing="7.83" stroke-width="1.2"><textPath href="#c17" textLength="140.88" lengthAdjust="spacingAndGlyphs">CONTRIBUIÇÃO</textPath></text>
<path id="c18" d="M965.78 1547.26A494.85 494.85 0 0 1 887.98 1567.97" fill="none" stroke="none"/>
<text font-size="13.8" letter-spacing="6.39" stroke-width="1.2"><textPath href="#c18" textLength="63.33" lengthAdjust="spacingAndGlyphs">SOCIAL</textPath></text>
<path id="c19" d="M763.99 1579.55A499.85 499.85 0 0 1 565.33 1522.34" fill="none" stroke="none"/>
<text font-size="13.8" letter-spacing="7.1" word-spacing="-3.53" stroke-width="1.2"><textPath href="#c19" textLength="190.79" lengthAdjust="spacingAndGlyphs">SAÚDE E DISPOSIÇÃO</textPath></text>
<path id="c20" d="M500.28 1505.63A519.75 519.75 0 0 1 363.47 1363.11" fill="none" stroke="none"/>
<text font-size="13.8" letter-spacing="7.95" stroke-width="1.2"><textPath href="#c20" textLength="180.63" lengthAdjust="spacingAndGlyphs">DESENVOLVIMENTO</textPath></text>
<path id="c21" d="M491.21 1468.58A495.55 495.55 0 0 1 397.64 1370.28" fill="none" stroke="none"/>
<text font-size="13.8" letter-spacing="6.72" stroke-width="1.2"><textPath href="#c21" textLength="118.84" lengthAdjust="spacingAndGlyphs">INTELECTUAL</textPath></text>
<path id="c22" d="M356.23 1309.75A499.25 499.25 0 0 1 300.77 1076.49" fill="none" stroke="none"/>
<text font-size="13.8" letter-spacing="7.83" word-spacing="-4.26" stroke-width="1.2"><textPath href="#c22" textLength="224.7" lengthAdjust="spacingAndGlyphs">EQUILÍBRIO EMOCIONAL</textPath></text>
</g>
<g stroke="#6e6e6e" stroke-width="2"><path d="M175.8 1824.95H458"/><path d="M495.3 1824.95H776.6"/><path d="M822.2 1824.95H1103.8"/><path d="M1143.3 1824.95H1425.8"/><path d="M175.8 1873.62H458"/><path d="M495.3 1873.62H776.6"/><path d="M822.2 1873.62H1103.8"/><path d="M1143.3 1873.62H1425.8"/><path d="M175.8 1922.3H458"/><path d="M495.3 1922.3H776.6"/><path d="M822.2 1922.3H1103.8"/><path d="M1143.3 1922.3H1425.8"/><path d="M175.8 1970.97H458"/><path d="M495.3 1970.97H776.6"/><path d="M822.2 1970.97H1103.8"/><path d="M1143.3 1970.97H1425.8"/><path d="M175.8 2019.65H458"/><path d="M495.3 2019.65H776.6"/><path d="M822.2 2019.65H1103.8"/><path d="M1143.3 2019.65H1425.8"/><path d="M175.8 2068.32H458"/><path d="M495.3 2068.32H776.6"/><path d="M822.2 2068.32H1103.8"/><path d="M1143.3 2068.32H1425.8"/><path d="M175.8 2117H458"/><path d="M495.3 2117H776.6"/><path d="M822.2 2117H1103.8"/><path d="M1143.3 2117H1425.8"/></g><g font-family="'Liberation Sans',sans-serif">
<text x="173.8" y="1773.5" font-size="32.2" textLength="244.6" lengthAdjust="spacingAndGlyphs" text-anchor="start" fill="#e988ae" stroke="#fff" stroke-width="0.9" stroke-linejoin="round" paint-order="fill stroke" letter-spacing="2.5">EU AGRADEÇO:</text>
<text x="823.8" y="1773.5" font-size="32.2" textLength="338" lengthAdjust="spacingAndGlyphs" text-anchor="start" fill="#e988ae" stroke="#fff" stroke-width="0.9" stroke-linejoin="round" paint-order="fill stroke" letter-spacing="2.5">PRECISO MELHORAR:</text>
</g>
</svg>
</body>
</html>
